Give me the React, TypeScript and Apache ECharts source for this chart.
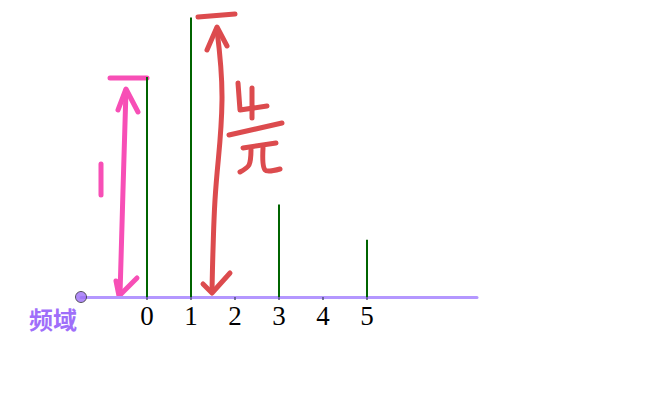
import React, { useEffect, useRef } from "react";
import * as echarts from "echarts";

const harmonics = [0, 1, 3, 5];
const amplitudes = [1, 1.27, 0.42, 0.26];
const tickLabels = [0, 1, 2, 3, 4, 5];
const axisName = "频域";
const originX = -1.5;

const pink = "#f74fb6";
const red = "#dc4b4e";

function App() {
  const ref = useRef<HTMLDivElement>(null);
  useEffect(() => {
    if (!ref.current) return;
    const chart = echarts.init(ref.current, undefined, { renderer: "svg" });
    const pl = (points: number[][], color: string, smooth = 0) => ({
      type: "polyline",
      shape: { points, smooth },
      style: { stroke: color, lineWidth: 5, fill: null, lineCap: "round", lineJoin: "round" },
      silent: true,
    });
    chart.setOption({
      animation: false,
      backgroundColor: "#ffffff",
      grid: { left: 81, right: 190, top: 0, bottom: 105, containLabel: false },
      xAxis: {
        type: "value",
        min: -1.5,
        max: 7.5,
        splitLine: { show: false },
        axisLine: { show: true, onZero: false, lineStyle: { color: "#b497ff", width: 3 } },
        axisTick: {
          show: true,
          customValues: tickLabels,
          length: 3,
          inside: false,
          lineStyle: { color: "#50507a", width: 1.5 },
        },
        axisLabel: {
          customValues: tickLabels,
          fontFamily: "Liberation Serif",
          fontSize: 27,
          color: "#000",
          margin: 5,
        },
      },
      yAxis: { type: "value", min: 0, max: 1.35, show: false, splitLine: { show: false } },
      series: [
        {
          type: "bar",
          data: harmonics.map((h, i) => [h, amplitudes[i]]),
          barWidth: 2,
          itemStyle: { color: "#006400" },
          silent: true,
        },
        {
          type: "scatter",
          data: [[originX, 0]],
          symbolSize: 11,
          clip: false,
          itemStyle: { color: "#9e6ff6", borderColor: "#333", borderWidth: 1 },
          z: 5,
        },
      ],
      graphic: [
        {
          type: "text",
          left: 29,
          top: 306,
          style: {
            text: axisName,
            fill: "#9f6ffa",
            fontFamily: "Noto Sans CJK SC",
            fontWeight: "bold",
            fontSize: 24,
          },
        },
        // pink annotation "1"
        pl([[110, 78], [147, 78]], pink),
        pl([[126, 90], [123, 190], [120, 295]], pink),
        pl([[118, 110], [126, 89], [138, 112]], pink),
        pl([[116, 281], [119, 296], [137, 278]], pink),
        pl([[101, 164], [101, 195]], pink),
        // red annotation "4/π"
        pl([[198, 17], [235, 14]], red),
        pl([[217, 30], [222, 100], [215, 200], [213, 250], [212, 292]], red, 0.4),
        pl([[207, 50], [217, 27], [227, 46]], red),
        pl([[203, 284], [212, 293], [230, 273]], red),
        pl([[238, 83], [240, 110], [267, 106]], red),
        pl([[252, 88], [252, 118]], red),
        pl([[229, 135], [282, 123]], red),
        pl([[243, 148], [276, 143]], red),
        pl([[251, 150], [249, 165], [240, 172]], red, 0.3),
        pl([[263, 148], [265, 170], [280, 169]], red, 0.3),
      ],
    });
    return () => chart.dispose();
  }, []);
  return <div ref={ref} style={{ width: 667, height: 402, margin: -8 }} />;
}

export default App;
